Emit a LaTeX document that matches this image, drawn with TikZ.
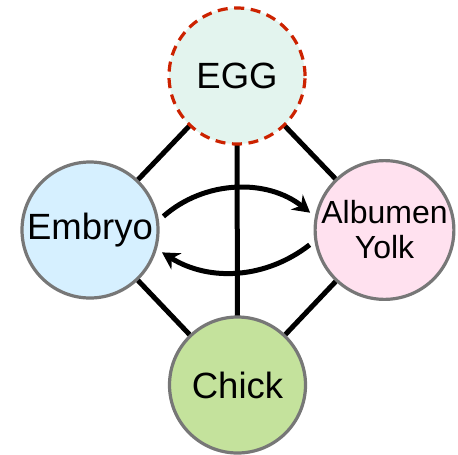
\documentclass[tikz,border=0pt]{standalone}
\usepackage{fontspec}
\setmainfont{Liberation Sans}
\usetikzlibrary{arrows.meta}
\definecolor{eggfill}{HTML}{E3F4EE}
\definecolor{eggborder}{HTML}{CC2200}
\definecolor{embfill}{HTML}{D6F0FF}
\definecolor{albfill}{HTML}{FFE1EF}
\definecolor{chickfill}{HTML}{C4E29C}
\definecolor{ringgray}{HTML}{777777}
\begin{document}
\begin{tikzpicture}[x=1pt,y=-1pt,
  blob/.style={circle, minimum size=136pt, inner sep=0pt, line width=3.2pt, draw=ringgray,
     font=\fontsize{36.5}{40}\selectfont, align=center},
  link/.style={line width=5pt, black},
  arr/.style={line width=5pt, black, -{Stealth[length=17pt,width=19pt]}, shorten <=6pt, shorten >=6pt}]
\useasboundingbox (0,0) rectangle (458,455);
% connectors first (behind circles)
\coordinate (cegg) at (237,76);
\coordinate (cemb) at (90,230);
\coordinate (calb) at (384.5,230);
\coordinate (cchk) at (237.5,385);
\draw[link] (cegg) -- (cemb);
\draw[link] (cegg) -- (calb);
\draw[link] (cegg) -- (cchk);
\draw[link] (cemb) -- (cchk);
\draw[link] (calb) -- (cchk);
% circles
\node[blob, fill=eggfill, draw=eggborder, dash pattern=on 10pt off 6.6pt] (egg) at (cegg) {EGG};
\node[blob, fill=embfill] (emb) at (cemb) {Embryo};
\node[blob, fill=albfill, font=\fontsize{32}{35}\selectfont] (alb) at (calb) {Albumen\\Yolk};
\node[blob, fill=chickfill] (chk) at (cchk) {Chick};
% curved arrows
\draw[arr] (emb.8) to[bend left=40] (alb.169);
\draw[arr] (alb.189) to[bend left=35] (emb.-16);
\end{tikzpicture}
\end{document}
